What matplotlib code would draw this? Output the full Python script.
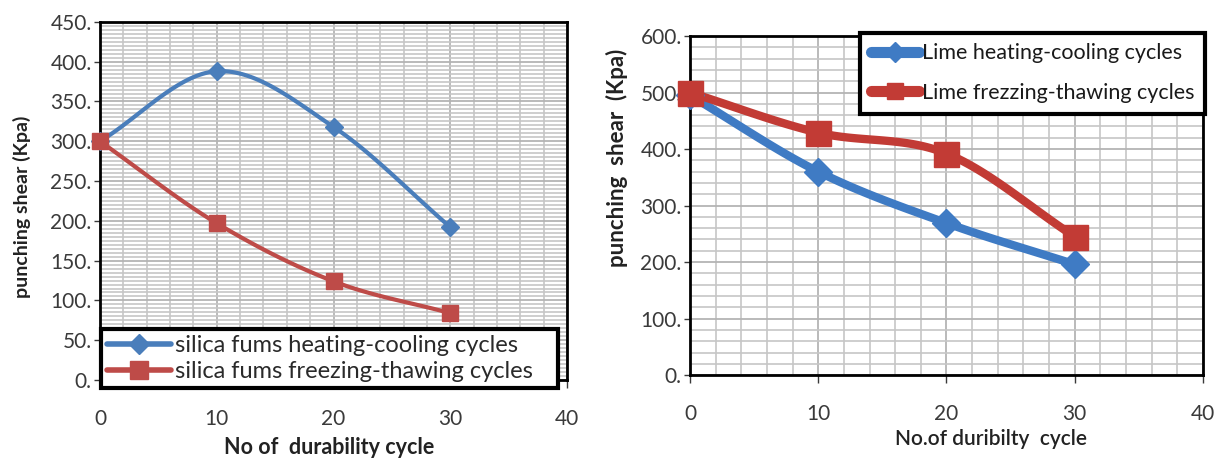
import numpy as np
import matplotlib
matplotlib.use("Agg")
import matplotlib.pyplot as plt
from matplotlib.ticker import MultipleLocator, FuncFormatter

plt.rcParams['font.family'] = ['Lato', 'DejaVu Sans']

cycles = [0, 10, 20, 30]
silica_heating = [300, 388, 318, 192]
silica_freezing = [300, 197, 124, 84]
lime_heating = [495, 360, 269, 196]
lime_freezing = [500, 429, 392, 245]

left_labels = ["silica fums heating-cooling cycles", "silica fums freezing-thawing cycles"]
right_labels = ["Lime heating-cooling cycles", "Lime frezzing-thawing cycles"]
x_ticks = [0, 10, 20, 30, 40]

BLUE = "#4A7EBB"
RED = "#BE4B48"
BLUE2 = "#3F7BC4"
RED2 = "#C23B35"

W, H = 1225, 466


def smooth(x, y, n=40):
    """Catmull-Rom style smoothing (like Excel's smoothed line) for drawing."""
    x = np.asarray(x, float); y = np.asarray(y, float)
    px = np.concatenate([[2 * x[0] - x[1]], x, [2 * x[-1] - x[-2]]])
    py = np.concatenate([[2 * y[0] - y[1]], y, [2 * y[-1] - y[-2]]])
    xs, ys = [], []
    for i in range(1, len(px) - 2):
        t = np.linspace(0, 1, n)
        p0, p1, p2, p3 = [np.array([px[j], py[j]]) for j in (i - 1, i, i + 1, i + 2)]
        c1 = p1 + (p2 - p0) / 6
        c2 = p2 - (p3 - p1) / 6
        pts = ((1 - t)[:, None] ** 3 * p1 + 3 * ((1 - t) ** 2 * t)[:, None] * c1
               + 3 * ((1 - t) * t ** 2)[:, None] * c2 + (t ** 3)[:, None] * p2)
        xs.append(pts[:, 0]); ys.append(pts[:, 1])
    return np.concatenate(xs), np.concatenate(ys)


fig = plt.figure(figsize=(W / 100, H / 100), dpi=100)
axL = fig.add_axes([0.0816, 0.1845, 0.3814, 0.7685])
axR = fig.add_axes([0.5633, 0.195, 0.4187, 0.7277])

dotfmt = FuncFormatter(lambda v, p: f"{int(round(v))}.")

for ax, ymax, ymaj, ymin in ((axL, 450, 50, 5), (axR, 600, 100, 20)):
    ax.set_xlim(0, 40)
    ax.set_ylim(0, ymax)
    ax.set_xticks(x_ticks)
    ax.xaxis.set_minor_locator(MultipleLocator(2))
    ax.yaxis.set_major_locator(MultipleLocator(ymaj))
    ax.yaxis.set_minor_locator(MultipleLocator(ymin))
    ax.yaxis.set_major_formatter(dotfmt)
    ax.grid(which='minor', color='#c6c6c6', linewidth=1.2)
    ax.grid(which='major', color='#b4b4b4', linewidth=1.3)
    ax.set_axisbelow(True)
    for s in ax.spines.values():
        s.set_linewidth(2.0)
        s.set_color('black')
    ax.tick_params(which='minor', length=0)
    ax.tick_params(axis='y', which='major', length=4, width=1, labelsize=15, pad=2,
                   colors='#3a3a3a')
    ax.tick_params(axis='x', which='major', length=6, width=1, labelsize=15, pad=15,
                   colors='#3a3a3a')

# ---------- Left chart ----------
xs, ys = smooth(cycles, silica_heating)
axL.plot(xs, ys, color=BLUE, lw=3, zorder=3, clip_on=False)
axL.plot(cycles, silica_heating, ls='none', marker='D', ms=9, color=BLUE, zorder=4, clip_on=False)
xs, ys = smooth(cycles, silica_freezing)
axL.plot(xs, ys, color=RED, lw=3, zorder=3, clip_on=False)
axL.plot(cycles, silica_freezing, ls='none', marker='s', ms=12, color=RED, zorder=4, clip_on=False)

hL = [plt.Line2D([], [], color=BLUE, lw=4, marker='D', ms=10, solid_capstyle='round'),
      plt.Line2D([], [], color=RED, lw=4, marker='s', ms=13, solid_capstyle='round')]
legL = axL.legend(hL, left_labels, loc='lower left', bbox_to_anchor=(0.002, -0.022, 0.978, 0.2),
                  mode='expand', fontsize=17, frameon=True, fancybox=False,
                  handlelength=2.7, handletextpad=0.2, borderpad=0.25, labelspacing=0.2,
                  borderaxespad=0)
legL.get_frame().set_edgecolor('black')
legL.get_frame().set_linewidth(3)
legL.get_frame().set_alpha(1)
legL.set_zorder(10)
for t in legL.get_texts():
    t.set_color('#2a2a2a')

axL.set_ylabel("punching shear (Kpa)", fontsize=14, fontweight='bold', color='#222222')
axL.yaxis.set_label_coords(22 / W, 1 - 207 / H, transform=fig.transFigure)
axL.yaxis.label.set_va('center')
axL.set_xlabel("No of  durability cycle", fontsize=15.5, fontweight='bold', color='#222222')
axL.xaxis.set_label_coords(329 / W, 1 - 447 / H, transform=fig.transFigure)
axL.xaxis.label.set_va('center')

# ---------- Right chart ----------
xs, ys = smooth(cycles, lime_heating)
axR.plot(xs, ys, color=BLUE2, lw=6, zorder=3, clip_on=False)
axR.plot(cycles, lime_heating, ls='none', marker='D', ms=14, color=BLUE2, zorder=4, clip_on=False)
xs, ys = smooth(cycles, lime_freezing)
axR.plot(xs, ys, color=RED2, lw=6, zorder=3, clip_on=False)
axR.plot(cycles, lime_freezing, ls='none', marker='s', ms=18, color=RED2, zorder=4, clip_on=False)

hR = [plt.Line2D([], [], color=BLUE2, lw=8, marker='D', ms=10, solid_capstyle='round'),
      plt.Line2D([], [], color=RED2, lw=8, marker='s', ms=12, solid_capstyle='round')]
legR = axR.legend(hR, right_labels, loc='upper right', bbox_to_anchor=(1.004, 1.01),
                  fontsize=15.5, frameon=True, fancybox=False,
                  handlelength=2.2, handletextpad=0.15, borderpad=0.5, labelspacing=0.9,
                  borderaxespad=0)
legR.get_frame().set_edgecolor('black')
legR.get_frame().set_linewidth(3)
legR.get_frame().set_alpha(1)
legR.set_zorder(10)
for t in legR.get_texts():
    t.set_color('#1a1a1a')

axR.set_ylabel("punching  shear  (Kpa)", fontsize=16, fontweight='bold', color='#222222')
axR.yaxis.set_label_coords(617 / W, 1 - 158 / H, transform=fig.transFigure)
axR.yaxis.label.set_va('center')
axR.set_xlabel("No.of duribilty  cycle", fontsize=15, fontweight='semibold', color='#222222')
axR.xaxis.set_label_coords(991 / W, 1 - 439 / H, transform=fig.transFigure)
axR.xaxis.label.set_va('center')

fig.savefig("out.png", dpi=100)
